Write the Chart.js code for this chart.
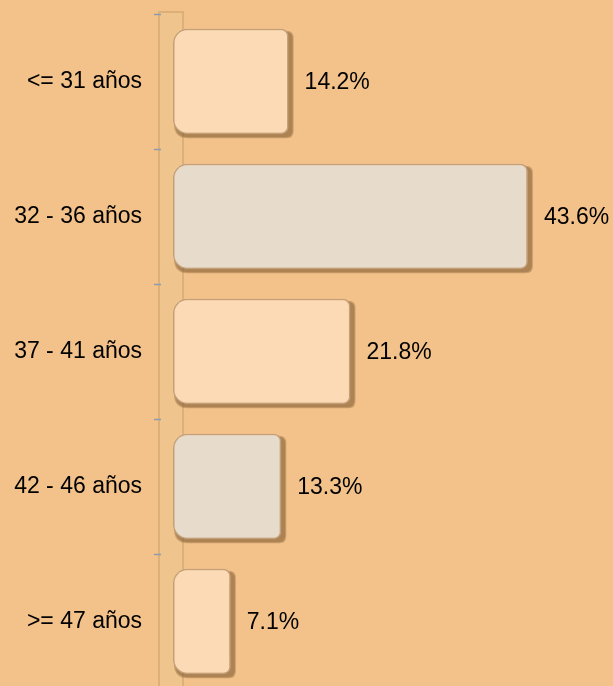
<!DOCTYPE html>
<html>
<head>
<meta charset="utf-8">
<script src="https://cdn.jsdelivr.net/npm/chart.js@4"></script>
<style>
html,body{margin:0;padding:0;background:#F3C28A;overflow:hidden;}
canvas{display:block;}
</style>
</head>
<body>
<canvas id="c" width="613" height="689" style="width:613px;height:689px"></canvas>
<script>
const categories = ["<= 31 años", "32 - 36 años", "37 - 41 años", "42 - 46 años", ">= 47 años"];
const values = [14.2, 43.6, 21.8, 13.3, 7.1];
const valueLabels = ["14.2%", "43.6%", "21.8%", "13.3%", "7.1%"];
const barColors = ["#FBDAB5", "#E7DBCC", "#FBDAB5", "#E7DBCC", "#FBDAB5"];

function rr(ctx, x, y, w, h, rl, rr_) {
  ctx.beginPath();
  ctx.moveTo(x + rl, y);
  ctx.lineTo(x + w - rr_, y);
  ctx.quadraticCurveTo(x + w, y, x + w, y + rr_);
  ctx.lineTo(x + w, y + h - rr_);
  ctx.quadraticCurveTo(x + w, y + h, x + w - rr_, y + h);
  ctx.lineTo(x + rl, y + h);
  ctx.quadraticCurveTo(x, y + h, x, y + h - rl);
  ctx.lineTo(x, y + rl);
  ctx.quadraticCurveTo(x, y, x + rl, y);
  ctx.closePath();
}

const wallPlugin = {
  id: 'wall',
  beforeDatasetsDraw(chart) {
    const ctx = chart.ctx, y = chart.scales.y, a = chart.chartArea;
    ctx.save();
    ctx.fillStyle = '#F0C48D';
    ctx.fillRect(158, a.top - 2, 25, a.bottom - a.top + 4);
    ctx.strokeStyle = '#DDB07A';
    ctx.lineWidth = 2;
    ctx.beginPath();
    ctx.moveTo(159, a.top - 3); ctx.lineTo(159, a.bottom);
    ctx.moveTo(183, a.top - 3); ctx.lineTo(183, a.bottom);
    ctx.moveTo(159, a.top - 2); ctx.lineTo(183, a.top - 2);
    ctx.stroke();
    ctx.strokeStyle = '#8A9AB0';
    ctx.lineWidth = 1.5;
    for (let i = 0; i < categories.length; i++) {
      const py = Math.round(y.getPixelForValue(i - 0.5)) + 0.5;
      ctx.beginPath(); ctx.moveTo(154, py); ctx.lineTo(161, py); ctx.stroke();
    }
    // drop shadows under bars, positioned from the bar elements
    const meta = chart.getDatasetMeta(0);
    meta.data.forEach((bar) => {
      const top = bar.y - bar.height / 2, left = bar.base;
      const w = bar.x - bar.base;
      ctx.fillStyle = 'rgba(150,110,65,0.45)';
      rr(ctx, left + 1, top + 2, w + 4, bar.height + 2, 14, 7);
      ctx.fill();
      ctx.fillStyle = 'rgba(120,85,50,0.35)';
      rr(ctx, left + 2, top + 3, w + 2, bar.height, 14, 7);
      ctx.fill();
    });
    ctx.restore();
  },
  afterDatasetsDraw(chart) {
    const ctx = chart.ctx;
    const meta = chart.getDatasetMeta(0);
    ctx.save();
    ctx.fillStyle = '#000';
    ctx.font = '23px "Liberation Sans", Arial, sans-serif';
    ctx.textAlign = 'left';
    ctx.textBaseline = 'middle';
    meta.data.forEach((bar, i) => {
      ctx.fillText(valueLabels[i], bar.x + 16, bar.y + 1);
    });
    ctx.restore();
  }
};

new Chart(document.getElementById('c'), {
  type: 'bar',
  data: {
    labels: categories,
    datasets: [{
      data: values,
      backgroundColor: barColors,
      borderColor: '#C4A07A',
      borderWidth: 1.5,
      borderSkipped: false,
      borderRadius: { topLeft: 14, bottomLeft: 14, topRight: 7, bottomRight: 7 },
      categoryPercentage: 1,
      barPercentage: 0.78
    }]
  },
  options: {
    indexAxis: 'y',
    responsive: false,
    animation: false,
    layout: { padding: { top: 14, right: 33, bottom: 0, left: 0 } },
    plugins: { legend: { display: false }, tooltip: { enabled: false } },
    scales: {
      x: { display: false, min: 0, max: 50 },
      y: {
        afterFit(s) { s.width = 173; s.paddingTop = 0; s.paddingBottom = 0; },
        grid: { display: false, drawTicks: false },
        border: { display: false },
        ticks: {
          color: '#000',
          padding: 31,
          font: { size: 23, family: '"Liberation Sans", Arial, sans-serif' }
        }
      }
    }
  },
  plugins: [wallPlugin]
});
</script>
</body>
</html>
